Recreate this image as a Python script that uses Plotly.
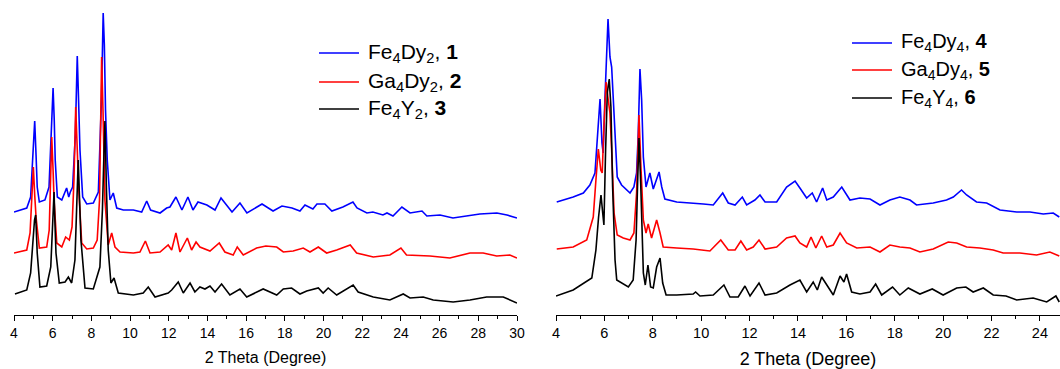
import plotly.graph_objects as go

# ---------------- data (2 Theta in degrees, intensity in arbitrary units, stacked) -------------
# Left panel: Fe4Dy2 (1), Ga4Dy2 (2), Fe4Y2 (3)
fe4dy2_x = [4.00, 4.66, 4.86, 4.96, 5.07, 5.14, 5.20, 5.31, 5.60, 5.81, 5.91, 6.02, 6.08, 6.13, 6.24,
            6.47, 6.72, 6.83, 6.91, 7.03, 7.17, 7.27, 7.33, 7.41, 7.55, 7.76, 8.10, 8.36, 8.52, 8.57,
            8.61, 8.67, 8.73, 8.82, 8.96, 9.13, 9.31, 9.65, 10.17, 10.60, 10.86, 11.06, 11.55, 11.89,
            12.06, 12.37, 12.58, 12.68, 12.99, 13.25, 13.51, 13.97, 14.39, 14.70, 15.27, 15.68, 16.04,
            16.82, 17.39, 17.85, 18.37, 18.78, 19.04, 19.45, 19.66, 20.07, 20.43, 21.00, 21.52, 21.73,
            22.24, 22.55, 23.07, 23.28, 23.59, 24.05, 24.47, 25.09, 25.34, 26.02, 26.69, 27.41, 28.08,
            28.96, 29.48, 30.00]
fe4dy2_y = [103, 107, 118, 150, 194, 160, 128, 113, 115, 128, 170, 227, 195, 155, 118,
            115, 127, 118, 123, 128, 180, 259, 220, 165, 118, 111, 112, 123, 215, 275,
            302, 270, 205, 155, 115, 122, 107, 105, 105, 103, 114, 105, 102, 107,
            108, 118, 108, 105, 118, 105, 113, 110, 105, 117, 103, 112, 102,
            111, 104, 109, 107, 104, 110, 106, 111, 111, 104, 108, 113, 107,
            102, 103, 100, 102, 99, 108, 102, 104, 99, 100, 97, 99, 101,
            102, 100, 97]

ga4dy2_x = [4.00, 4.66, 4.83, 4.92, 5.00, 5.07, 5.14, 5.31, 5.69, 5.82, 5.89, 5.95, 6.02, 6.07, 6.21,
            6.47, 6.67, 6.86, 7.00, 7.10, 7.19, 7.26, 7.34, 7.50, 7.76, 8.10, 8.30, 8.42, 8.48, 8.53,
            8.60, 8.70, 8.87, 9.05, 9.22, 9.48, 10.17, 10.51, 10.79, 11.03, 11.55, 11.97, 12.15, 12.37,
            12.58, 12.96, 13.18, 13.41, 13.61, 14.13, 14.61, 14.90, 15.33, 15.54, 15.85, 16.54, 17.02,
            17.58, 17.92, 18.43, 18.95, 19.30, 19.73, 20.16, 20.68, 21.38, 21.71, 22.57, 23.43, 24.00,
            24.29, 25.50, 26.53, 27.57, 28.25, 28.95, 29.63, 30.00]
ga4dy2_y = [62, 65, 82, 115, 148, 120, 98, 67, 68, 85, 125, 178, 145, 115, 72,
            68, 78, 75, 88, 135, 208, 175, 128, 72, 66, 67, 75, 115, 195, 258,
            205, 115, 70, 82, 68, 63, 62, 63, 74, 62, 63, 70, 65, 82,
            63, 77, 65, 73, 68, 64, 72, 63, 60, 68, 60, 67, 69,
            68, 63, 64, 67, 63, 68, 62, 65, 70, 62, 58, 60, 67,
            60, 59, 57, 62, 62, 59, 60, 57]

fe4y2_x = [4.05, 4.66, 4.86, 5.00, 5.06, 5.12, 5.16, 5.20, 5.34, 5.69, 5.90, 5.99, 6.07, 6.12, 6.17,
           6.34, 6.64, 6.81, 6.98, 7.15, 7.25, 7.32, 7.38, 7.46, 7.67, 8.10, 8.44, 8.57, 8.64, 8.70,
           8.78, 8.87, 9.01, 9.17, 9.39, 10.17, 10.68, 10.94, 11.29, 11.97, 12.15, 12.49, 12.75, 13.10,
           13.35, 13.61, 13.87, 14.13, 14.39, 14.73, 15.16, 15.68, 16.03, 16.88, 17.58, 17.92, 18.35,
           18.78, 19.13, 19.73, 19.98, 20.24, 20.68, 21.53, 21.79, 22.23, 22.57, 23.43, 24.12, 24.47,
           25.15, 25.67, 26.70, 27.57, 28.43, 29.29, 30.00]
fe4y2_y = [21, 25, 42, 82, 95, 100, 80, 62, 28, 29, 48, 85, 123, 90, 62,
           32, 33, 38, 32, 55, 105, 155, 120, 75, 27, 26, 48, 105, 155, 194,
           125, 65, 32, 37, 22, 20, 22, 28, 18, 22, 25, 33, 22, 32,
           23, 28, 26, 29, 23, 31, 20, 26, 18, 26, 20, 26, 27,
           21, 24, 27, 22, 27, 20, 30, 23, 20, 18, 15, 21, 17,
           18, 15, 13, 15, 18, 18, 12]

# Right panel: Fe4Dy4 (4), Ga4Dy4 (5), Fe4Y4 (6)
fe4dy4_x = [4.03, 4.71, 5.13, 5.40, 5.61, 5.71, 5.82, 5.90, 5.95, 6.02, 6.10, 6.15, 6.23, 6.30, 6.37,
            6.44, 6.53, 6.71, 6.92, 7.06, 7.22, 7.33, 7.40, 7.47, 7.54, 7.61, 7.72, 7.88, 8.02, 8.26,
            8.37, 8.50, 8.99, 9.67, 10.09, 10.50, 10.89, 11.12, 11.40, 11.70, 11.88, 12.22, 12.43, 12.64,
            13.12, 13.53, 13.88, 14.08, 14.36, 14.59, 14.77, 15.02, 15.19, 15.46, 15.81, 16.15, 16.56,
            16.98, 17.39, 17.80, 18.21, 18.63, 18.90, 19.59, 20.14, 20.42, 20.76, 20.97, 21.38, 21.80,
            22.35, 23.04, 23.59, 24.14, 24.55, 24.80]
fe4dy4_y = [113, 118, 122, 130, 142, 182, 216, 172, 162, 215, 265, 296, 258, 248, 215,
            175, 138, 130, 125, 122, 128, 142, 182, 246, 215, 158, 128, 142, 126, 143,
            128, 116, 113, 112, 111, 110, 122, 112, 110, 118, 110, 115, 120, 113,
            113, 128, 134, 127, 117, 122, 113, 127, 115, 118, 128, 115, 117,
            116, 110, 115, 118, 115, 110, 112, 115, 118, 125, 120, 113, 112,
            105, 103, 103, 101, 102, 98]

ga4dy4_x = [4.03, 4.71, 5.27, 5.54, 5.65, 5.75, 5.85, 5.91, 5.98, 6.07, 6.16, 6.23, 6.30, 6.40, 6.53,
            6.78, 7.06, 7.22, 7.33, 7.43, 7.51, 7.61, 7.72, 7.81, 7.95, 8.16, 8.30, 8.43, 8.99, 9.67,
            10.36, 10.81, 11.12, 11.40, 11.64, 11.88, 12.15, 12.39, 12.64, 13.12, 13.53, 13.88, 14.08,
            14.36, 14.54, 14.74, 14.98, 15.19, 15.46, 15.74, 16.01, 16.43, 16.98, 17.39, 17.80, 18.21,
            18.63, 19.04, 19.59, 20.21, 20.56, 20.97, 21.52, 22.07, 22.48, 23.17, 23.86, 24.41, 24.80]
ga4dy4_y = [66, 68, 75, 98, 135, 166, 145, 142, 188, 233, 215, 202, 165, 102, 80,
            77, 75, 82, 122, 200, 148, 95, 82, 91, 77, 95, 82, 68, 67, 66,
            64, 75, 65, 65, 74, 65, 68, 75, 66, 68, 77, 79, 72,
            68, 78, 67, 79, 68, 70, 82, 72, 67, 68, 63, 70, 68,
            67, 63, 66, 73, 72, 68, 67, 65, 62, 62, 60, 63, 59]

fe4y4_x = [4.00, 4.71, 5.48, 5.65, 5.76, 5.86, 5.93, 5.98, 6.05, 6.12, 6.20, 6.27, 6.34, 6.44, 6.51,
           6.71, 6.99, 7.19, 7.31, 7.38, 7.43, 7.50, 7.61, 7.69, 7.80, 7.91, 8.02, 8.16, 8.30, 8.41,
           8.55, 8.99, 9.67, 9.77, 9.95, 10.50, 10.94, 11.19, 11.53, 11.81, 12.02, 12.39, 12.64, 13.12,
           13.67, 14.08, 14.36, 14.63, 14.80, 14.98, 15.46, 15.74, 15.90, 16.01, 16.22, 16.56, 16.98,
           17.21, 17.46, 17.91, 18.21, 18.56, 19.04, 19.55, 20.00, 20.56, 20.94, 21.24, 21.66, 22.07,
           22.60, 23.04, 23.72, 24.28, 24.66, 24.80]
fe4y4_y = [19, 25, 37, 65, 98, 120, 102, 90, 165, 222, 236, 208, 128, 55, 35,
           32, 28, 35, 75, 138, 177, 132, 42, 30, 50, 28, 27, 48, 57, 32,
           20, 20, 21, 23, 19, 20, 30, 18, 18, 29, 19, 32, 20, 22,
           30, 35, 23, 33, 25, 38, 20, 39, 33, 41, 23, 21, 23,
           31, 20, 28, 20, 27, 21, 26, 20, 27, 28, 23, 27, 20,
           19, 15, 17, 13, 19, 13]

left_names = ["Fe<sub>4</sub>Dy<sub>2</sub>, <b>1</b>",
              "Ga<sub>4</sub>Dy<sub>2</sub>, <b>2</b>",
              "Fe<sub>4</sub>Y<sub>2</sub>, <b>3</b>"]
right_names = ["Fe<sub>4</sub>Dy<sub>4</sub>, <b>4</b>",
               "Ga<sub>4</sub>Dy<sub>4</sub>, <b>5</b>",
               "Fe<sub>4</sub>Y<sub>4</sub>, <b>6</b>"]
colors = ["#0000ff", "#ff0000", "#000000"]
tick_vals_left = [4, 6, 8, 10, 12, 14, 16, 18, 20, 22, 24, 26, 28, 30]
tick_vals_right = [4, 6, 8, 10, 12, 14, 16, 18, 20, 22, 24]
x_title = "2 Theta (Degree)"

# ---------------- figure -------------
FONT = "Liberation Sans, Arial, sans-serif"
fig = go.Figure()

left_series = [(fe4dy2_x, fe4dy2_y), (ga4dy2_x, ga4dy2_y), (fe4y2_x, fe4y2_y)]
right_series = [(fe4dy4_x, fe4dy4_y), (ga4dy4_x, ga4dy4_y), (fe4y4_x, fe4y4_y)]

for (xs, ys), c, n in zip(left_series, colors, left_names):
    fig.add_trace(go.Scatter(x=xs, y=ys, mode="lines", line=dict(color=c, width=1.6),
                             name=n, xaxis="x", yaxis="y", showlegend=False))
for (xs, ys), c, n in zip(right_series, colors, right_names):
    fig.add_trace(go.Scatter(x=xs, y=ys, mode="lines", line=dict(color=c, width=1.6),
                             name=n, xaxis="x2", yaxis="y2", showlegend=False))

W, H = 1060, 369
PLOT_H = 315.0

def xaxis_cfg(domain, rng, tickvals, tsize, titlesize, anchor):
    return dict(domain=domain, range=rng, tickmode="array", tickvals=tickvals, anchor=anchor,
                automargin=False,
                ticks="outside", ticklen=5, tickwidth=1, tickcolor="black",
                minor=dict(dtick=1, tick0=4, ticks="outside", ticklen=3, tickwidth=1, tickcolor="black"),
                showline=True, linecolor="black", linewidth=1, showgrid=False, zeroline=False,
                tickfont=dict(family=FONT, size=tsize, color="black"),
                title=dict(text=x_title, font=dict(family=FONT, size=titlesize, color="black"), standoff=12),
                mirror=False)

def yaxis_cfg(anchor):
    return dict(domain=[0, 1], range=[0, PLOT_H], visible=False, anchor=anchor, automargin=False)

fig.update_layout(
    width=W, height=H,
    margin=dict(l=0, r=0, t=0, b=H - PLOT_H, pad=0, autoexpand=False),
    paper_bgcolor="white", plot_bgcolor="white",
    xaxis=xaxis_cfg([14 / W, 517 / W], [4, 30], tick_vals_left, 14, 16, "y"),
    xaxis2=xaxis_cfg([556 / W, 1.0], [4, 24.83], tick_vals_right, 14.5, 18, "y2"),
    yaxis=yaxis_cfg("x"),
    yaxis2=yaxis_cfg("x2"),
    showlegend=False,
)

# legend keys (drawn as shapes + text)
def add_key(x0, x1, ytop_px, label, color, size):
    yp = (PLOT_H - ytop_px) / PLOT_H
    fig.add_shape(type="line", xref="paper", yref="paper", x0=x0 / W, x1=x1 / W, y0=yp, y1=yp,
                  line=dict(color=color, width=1.3))
    fig.add_annotation(xref="paper", yref="paper", x=(x1 + 7) / W, y=yp, text=label,
                       showarrow=False, xanchor="left", yanchor="middle",
                       font=dict(family=FONT, size=size, color="black"))

for row_y, n, c in zip([53, 82, 109], left_names, colors):
    add_key(319, 359, row_y, n, c, 21)
for row_y, n, c in zip([43, 70, 98], right_names, colors):
    add_key(852, 892, row_y, n, c, 20)

fig.write_html("out.html")
